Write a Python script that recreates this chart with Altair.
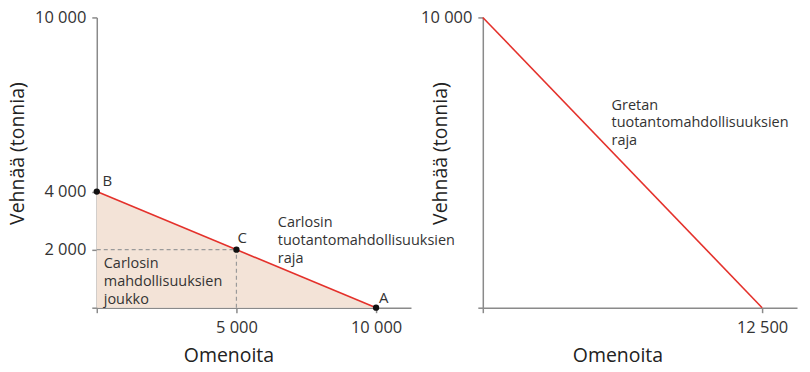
import altair as alt
import pandas as pd

FONT = "Open Sans"
TEXT = "#333333"
AXIS = "#8a8a8a"
RED = "#e4312b"
FILL = "#f3e3d7"
DASH = "#9a9a9a"

# Carlos: points B, C, A
carlos_apples = [0, 5000, 10000]
carlos_wheat = [4000, 2000, 0]
carlos_names = ["B", "C", "A"]
carlos_label_x = [204, 5036, 10107]
carlos_label_y = [4192, 2234, 172]

# Greta frontier
greta_apples = [0, 12500]
greta_wheat = [10000, 0]

carlos_x_ticks = [0, 5000, 10000]
carlos_y_ticks = [0, 2000, 4000, 10000]
greta_x_ticks = [0, 12500]
greta_y_ticks = [0, 10000]

left_x_domain = [0, 11250]
right_x_domain = [0, 14062.5]
y_domain = [0, 10000]

carlos_note_text = ["Carlosin\ntuotantomahdollisuuksien\nraja",
                    "Carlosin\nmahdollisuuksien\njoukko"]
carlos_note_x = [6482, 250]
carlos_note_y = [2766, 1375]

greta_note_text = ["Gretan\ntuotantomahdollisuuksien\nraja"]
greta_note_x = [5759]
greta_note_y = [6828]

x_title = "Omenoita"
y_title = "Vehnää (tonnia)"

W, H = 315, 291

LABEL_EXPR = "datum.value == 0 ? '' : replace(format(datum.value, ','), ',', ' ')"


def x_enc(field, domain, ticks, title_x):
    return alt.X(field, type="quantitative",
                 scale=alt.Scale(domain=domain, nice=False, zero=True),
                 axis=alt.Axis(values=ticks, title=x_title, labelExpr=LABEL_EXPR,
                               titleX=title_x, titleY=54, titleBaseline="alphabetic",
                               titleAlign="center"))


def y_enc(field, ticks, title_x):
    return alt.Y(field, type="quantitative",
                 scale=alt.Scale(domain=y_domain, nice=False, zero=True),
                 axis=alt.Axis(values=ticks, title=y_title, labelExpr=LABEL_EXPR,
                               titleX=title_x, titleY=136, titleBaseline="alphabetic",
                               titleAlign="center"))


carlos_df = pd.DataFrame({"x": carlos_apples, "y": carlos_wheat, "name": carlos_names,
                          "lx": carlos_label_x, "ly": carlos_label_y})
c_point = carlos_df[carlos_df["name"] == "C"].iloc[0]
dash_df = pd.DataFrame({
    "x": [0, c_point["x"]], "x2": [c_point["x"], c_point["x"]],
    "y": [c_point["y"], 0], "y2": [c_point["y"], c_point["y"]],
})
carlos_notes = pd.DataFrame({"x": carlos_note_x, "y": carlos_note_y, "t": carlos_note_text})

front = carlos_df[carlos_df["name"] != "C"]

lx = lambda f="x": x_enc(f, left_x_domain, carlos_x_ticks, 132)
ly = lambda f="y": y_enc(f, carlos_y_ticks, -73)

area = alt.Chart(front).mark_area(color=FILL, opacity=1).encode(x=lx(), y=ly())
dash = alt.Chart(dash_df).mark_rule(color=DASH, strokeDash=[4, 3], strokeWidth=1.2).encode(
    x=lx(), x2="x2:Q", y=ly(), y2="y2:Q")
line = alt.Chart(front).mark_line(color=RED, strokeWidth=1.6).encode(x=lx(), y=ly())
pts = alt.Chart(carlos_df).mark_circle(color="#111111", size=40, opacity=1).encode(x=lx(), y=ly())
plabels = alt.Chart(carlos_df).mark_text(align="left", baseline="alphabetic", font=FONT,
                                         fontSize=15, color=TEXT).encode(
    x=lx("lx"), y=ly("ly"), text="name:N")
notes = alt.Chart(carlos_notes).mark_text(align="left", baseline="alphabetic", font=FONT,
                                          fontSize=14.5, color=TEXT, lineBreak="\n",
                                          lineHeight=18).encode(
    x=lx(), y=ly(), text="t:N")

left = alt.layer(area, dash, line, pts, plabels, notes).properties(width=W, height=H)

greta_df = pd.DataFrame({"x": greta_apples, "y": greta_wheat})
greta_notes = pd.DataFrame({"x": greta_note_x, "y": greta_note_y, "t": greta_note_text})
rx = lambda f="x": x_enc(f, right_x_domain, greta_x_ticks, 135)
ry = lambda f="y": y_enc(f, greta_y_ticks, -36)

gline = alt.Chart(greta_df).mark_line(color=RED, strokeWidth=1.6).encode(x=rx(), y=ry())
gnotes = alt.Chart(greta_notes).mark_text(align="left", baseline="alphabetic", font=FONT,
                                          fontSize=14.5, color=TEXT, lineBreak="\n",
                                          lineHeight=18).encode(
    x=rx(), y=ry(), text="t:N")
right = alt.layer(gline, gnotes).properties(width=W, height=H)

chart = alt.hconcat(left, right, spacing=72, bounds="flush").properties(
    padding={"left": -1, "top": 1, "right": 5, "bottom": 5}
).configure_view(stroke=None).configure_axis(
    grid=False,
    domainColor=AXIS, domainWidth=1.5,
    tickColor=AXIS, tickWidth=1.5, tickSize=5,
    labelFont=FONT, labelFontSize=16.5, labelColor=TEXT, labelPadding=6,
    labelFlush=False, labelOverlap=False, labelBound=False,
    titleFont=FONT, titleFontSize=19.5, titleFontWeight="normal", titleColor="#222222",
).configure_axisX(labelPadding=7)

chart.save("out.html", embed_options={"renderer": "svg", "actions": False})
